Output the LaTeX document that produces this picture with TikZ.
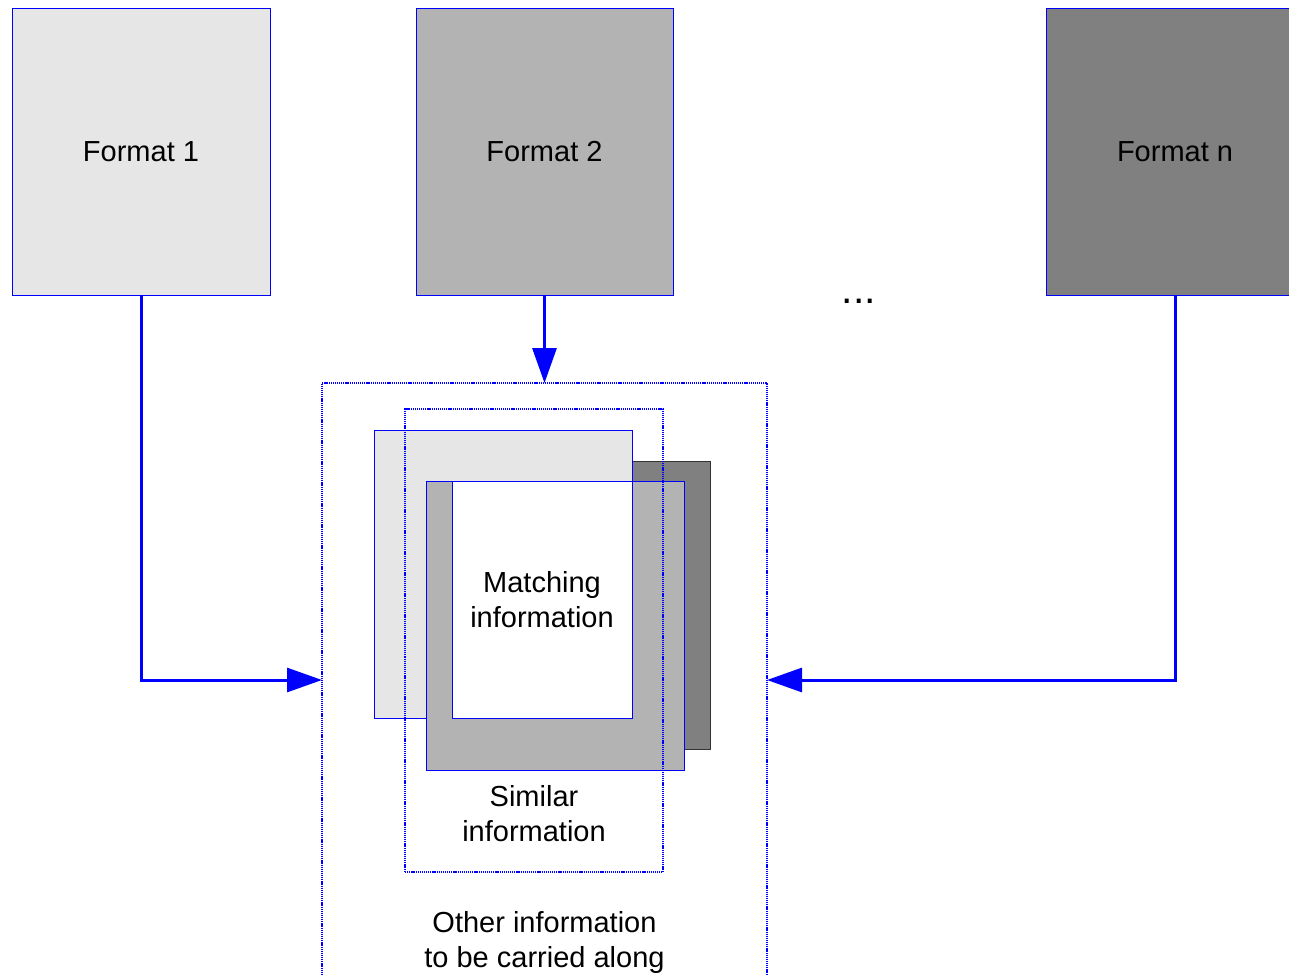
\documentclass[tikz,border=0pt]{standalone}
\usepackage{fontspec}
\setmainfont{Liberation Sans}
\usetikzlibrary{arrows.meta}
\definecolor{lightfill}{HTML}{E6E6E6}
\definecolor{midfill}{HTML}{B3B3B3}
\definecolor{darkfill}{HTML}{808080}
\begin{document}
\begin{tikzpicture}[x=1pt,y=-1pt,
  every node/.style={font=\fontsize{29}{35}\selectfont, inner sep=0pt, outer sep=0pt, align=center},
  fmt/.style={draw=blue, line width=0.8pt, minimum width=258pt, minimum height=287pt},
  sheet/.style={draw=blue, line width=0.8pt, minimum width=258pt, minimum height=288pt},
  region/.style={draw=blue, line width=1.1pt, dash pattern=on 1.2pt off 0.9pt},
  flow/.style={draw=blue, line width=3pt, -{Triangle[length=35pt,width=24pt]}}
]
\useasboundingbox (0,0) rectangle (1289,976);
\clip (0,0) rectangle (1289,976);

% source formats
\node[fmt, fill=lightfill] (f1) at (141,151.5) {Format 1};
\node[fmt, fill=midfill, minimum width=257pt] (f2) at (544.5,151.5) {Format 2};
\node[fmt, fill=darkfill] (fn) at (1175,151.5) {Format n};
\node[anchor=base, font=\fontsize{41}{41}\selectfont] (dots) at (859,303) {...};

% region of everything that is carried along
\node[region, minimum width=445pt, minimum height=594pt] (outer) at (544.5,680) {};

% stacked sheets, one per format
\node[sheet, fill=darkfill, draw=black!80] (s3) at (581,605) {};
\node[sheet, fill=lightfill] (s1) at (503,574) {};
\node[sheet, fill=midfill, minimum height=289pt] (s2) at (555,625.5) {};
\node[draw=blue, line width=0.8pt, fill=white, minimum width=180pt, minimum height=237pt] (match) at (542,599.5) {Matching\\information};

% region of similar information
\node[region, minimum width=258pt, minimum height=463pt] (similar) at (534,640.5) {};
\node (simtext) at (534,814) {Similar\\information};
\node (othertext) at (544.5,942) {Other information\\to be carried along};

% flows into the common region
\draw[flow] (f1.south) |- (outer.west);
\draw[flow] (f2.south) -- (outer.north);
\draw[flow] (fn.south) |- (outer.east);
\end{tikzpicture}
\end{document}
